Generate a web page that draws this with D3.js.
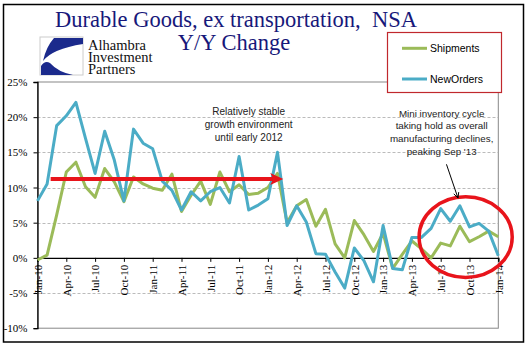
<!DOCTYPE html>
<html>
<head>
<meta charset="utf-8">
<script src="https://cdn.jsdelivr.net/npm/d3@7"></script>
<style>
  body { margin: 0; background: #fff; }
  svg { display: block; }
</style>
</head>
<body>
<svg id="chart" width="532" height="358"></svg>
<script>
// months shown on the chart (Excel category axis)
var months = ["Jan-10","Feb-10","Mar-10","Apr-10","May-10","Jun-10","Jul-10","Aug-10","Sep-10","Oct-10","Nov-10","Dec-10",
  "Jan-11","Feb-11","Mar-11","Apr-11","May-11","Jun-11","Jul-11","Aug-11","Sep-11","Oct-11","Nov-11","Dec-11",
  "Jan-12","Feb-12","Mar-12","Apr-12","May-12","Jun-12","Jul-12","Aug-12","Sep-12","Oct-12","Nov-12","Dec-12",
  "Jan-13","Feb-13","Mar-13","Apr-13","May-13","Jun-13","Jul-13","Aug-13","Sep-13","Oct-13","Nov-13","Dec-13",
  "Jan-14"];
var tickLabels = ["Jan-10","Apr-10","Jul-10","Oct-10","Jan-11","Apr-11","Jul-11","Oct-11","Jan-12","Apr-12","Jul-12","Oct-12","Jan-13","Apr-13","Jul-13","Oct-13","Jan-14"];
var yTicks = [-10, -5, 0, 5, 10, 15, 20, 25];

// Y/Y % change
var shipments = [-0.3, 0.4, 6.1, 12.2, 13.6, 10.1, 8.6, 12.7, 10.8, 8.0, 11.5, 10.5,
  9.9, 9.6, 11.9, 6.6, 8.9, 10.9, 7.6, 12.2, 9.4, 10.4, 9.0, 9.2,
  10.0, 12.0, 5.0, 7.4, 8.3, 4.5, 6.9, 2.0, 0.0, 5.3, 3.3, 0.9,
  3.5, -1.5, 0.5, 2.4, 1.3, 0.0, 2.1, 1.7, 4.5, 2.3, 3.0, 3.8,
  3.0];
var newOrders = [8.1, 10.5, 18.8, 20.2, 22.1, 17.0, 12.0, 18.0, 13.9, 8.1, 18.3, 16.3,
  15.5, 10.9, 9.6, 6.8, 9.4, 8.1, 9.4, 10.0, 7.8, 14.4, 6.8, 7.5,
  8.4, 15.0, 4.6, 7.4, 5.1, 0.6, 0.5, -2.0, -4.3, 1.4, -0.4, -3.4,
  4.6, -1.5, -1.7, 2.9, 2.9, 4.2, 7.0, 5.2, 7.4, 4.4, 4.9, 3.8,
  0.3];

var seriesNames = ["Shipments", "NewOrders"];
var colors = ["#9bbb59", "#4bacc6"];

var svg = d3.select("#chart");

var x = d3.scaleLinear().domain([0, months.length - 1]).range([37.5, 498.3]);
var y = d3.scaleLinear().domain([-10, 25]).range([328.2, 82]);

// outer frame
svg.append("rect")
  .attr("x", 3.5).attr("y", 4.5).attr("width", 520).attr("height", 337.5)
  .attr("fill", "#fff").attr("stroke", "#000").attr("stroke-width", 1.5);

// title
svg.append("text")
  .attr("x", 236).attr("y", 27)
  .attr("text-anchor", "middle")
  .attr("font-family", "Liberation Serif, serif")
  .attr("font-size", 22.5)
  .attr("fill", "#17187a")
  .attr("xml:space", "preserve")
  .text("Durable Goods, ex transportation,  NSA");
svg.append("text")
  .attr("x", 234).attr("y", 50)
  .attr("text-anchor", "middle")
  .attr("font-family", "Liberation Serif, serif")
  .attr("font-size", 22.5)
  .attr("fill", "#17187a")
  .text("Y/Y Change");

// logo
var logo = svg.append("g");
logo.append("rect").attr("x", 40).attr("y", 37).attr("width", 43).attr("height", 38)
  .attr("fill", "#fff").attr("stroke", "#ccc");
logo.append("path").attr("d", "M83,38 L54,38 Q46,47 43,61 Q52,49 83,44 Z").attr("fill", "#1b2a8c");
logo.append("path").attr("d", "M41,75 L41,66 Q45,60 50,63 Q58,72 73,75 Z").attr("fill", "#1b2a8c");
var logoText = ["Alhambra", "Investment", "Partners"];
logo.selectAll("text.logo")
  .data(logoText)
  .enter().append("text")
  .attr("class", "logo")
  .attr("x", 88)
  .attr("y", function(d, i) { return 49.5 + i * 12; })
  .attr("font-family", "Liberation Serif, serif")
  .attr("font-size", 14.5)
  .attr("fill", "#111")
  .text(function(d) { return d; });

// plot area border
svg.append("rect")
  .attr("x", x(0)).attr("y", y(25))
  .attr("width", x(months.length - 1) - x(0)).attr("height", y(-10) - y(25))
  .attr("fill", "none").attr("stroke", "#888").attr("stroke-width", 1);

// gridlines
svg.append("g")
  .selectAll("line")
  .data(yTicks.filter(function(d) { return d != 0 && d != 25 && d != -10; }))
  .enter().append("line")
  .attr("x1", x(0)).attr("x2", x(months.length - 1))
  .attr("y1", function(d) { return Math.round(y(d)) + 0.5; })
  .attr("y2", function(d) { return Math.round(y(d)) + 0.5; })
  .attr("stroke", "#aaa").attr("stroke-width", 0.8)
  .attr("stroke-dasharray", "3,2");

// y axis
var yAxis = svg.append("g")
  .attr("transform", "translate(" + x(0) + ",0)")
  .call(d3.axisLeft(y).tickValues(yTicks).tickSize(4).tickPadding(6)
    .tickFormat(function(d) { return d + "%"; }));
yAxis.select(".domain").attr("stroke", "#000").attr("stroke-width", 1.3);
yAxis.selectAll("text")
  .attr("font-family", "Liberation Serif, serif")
  .attr("font-size", 11)
  .attr("fill", "#000");

// x axis at 0%
var xAxis = svg.append("g")
  .attr("transform", "translate(0," + y(0) + ")")
  .call(d3.axisBottom(x)
    .tickValues(tickLabels.map(function(l) { return months.indexOf(l); }))
    .tickSize(4)
    .tickFormat(function(i) { return months[i]; }));
xAxis.select(".domain").attr("stroke", "#000").attr("stroke-width", 1.3);
xAxis.selectAll("text")
  .attr("font-family", "Liberation Serif, serif")
  .attr("font-size", 11)
  .attr("fill", "#000")
  .attr("text-anchor", "end")
  .attr("transform", "translate(0,7) rotate(-90)")
  .attr("x", 0).attr("y", 0)
  .attr("dy", "0.35em");

// lines
var line = d3.line()
  .x(function(d, i) { return x(i); })
  .y(function(d) { return y(d); });

svg.append("g")
  .selectAll("path")
  .data([shipments, newOrders])
  .enter().append("path")
  .attr("d", line)
  .attr("fill", "none")
  .attr("stroke", function(d, i) { return colors[i]; })
  .attr("stroke-width", 3)
  .attr("stroke-linejoin", "round");

// red arrow: stable growth until early 2012
var arrowY = y(11.2);
var ax0 = x(1.37), ax1 = x(25.6);
svg.append("line")
  .attr("x1", ax0).attr("x2", ax1 - 10)
  .attr("y1", arrowY).attr("y2", arrowY)
  .attr("stroke", "#e8141b").attr("stroke-width", 4);
svg.append("path")
  .attr("d", "M" + ax1 + "," + arrowY + " L" + (ax1 - 13) + "," + (arrowY - 6) +
    " L" + (ax1 - 10) + "," + arrowY + " L" + (ax1 - 13) + "," + (arrowY + 6) + " Z")
  .attr("fill", "#e8141b");

// red ellipse around the late-2013 cycle
svg.append("ellipse")
  .attr("cx", x(44.6)).attr("cy", y(2.95))
  .attr("rx", x(4.85) - x(0)).attr("ry", y(0) - y(5.73))
  .attr("fill", "none").attr("stroke", "#e8141b").attr("stroke-width", 3.5);

// annotation texts
var note1 = ["Relatively stable", "growth environment", "until early 2012"];
svg.append("g").selectAll("text")
  .data(note1)
  .enter().append("text")
  .attr("x", x(22.0))
  .attr("y", function(d, i) { return 115 + i * 13; })
  .attr("text-anchor", "middle")
  .attr("font-family", "Liberation Sans, Arial, sans-serif")
  .attr("font-size", 10)
  .attr("fill", "#222")
  .text(function(d) { return d; });

var note2 = ["Mini inventory cycle", "taking hold as overall", "manufacturing declines,", "peaking Sep '13"];
svg.append("g").selectAll("text")
  .data(note2)
  .enter().append("text")
  .attr("x", x(42.1))
  .attr("y", function(d, i) { return 116.5 + i * 12.8; })
  .attr("text-anchor", "middle")
  .attr("font-family", "Liberation Sans, Arial, sans-serif")
  .attr("font-size", 9.8)
  .attr("fill", "#222")
  .text(function(d) { return d; });

// small black pointer
var px0 = x(42.6), py0 = y(13.3), px1 = x(43.8), py1 = y(8.5);
svg.append("line")
  .attr("x1", px0).attr("y1", py0).attr("x2", px1).attr("y2", py1)
  .attr("stroke", "#000").attr("stroke-width", 1);
var ang = Math.atan2(py1 - py0, px1 - px0);
var hl = 6;
svg.append("path")
  .attr("d", "M" + (px1 - hl * Math.cos(ang - 0.45)) + "," + (py1 - hl * Math.sin(ang - 0.45)) +
    " L" + px1 + "," + py1 +
    " L" + (px1 - hl * Math.cos(ang + 0.45)) + "," + (py1 - hl * Math.sin(ang + 0.45)))
  .attr("fill", "none").attr("stroke", "#000").attr("stroke-width", 1);

// legend
var legend = svg.append("g");
legend.append("rect")
  .attr("x", 387.5).attr("y", 32.5).attr("width", 114).attr("height", 60)
  .attr("fill", "#fff").attr("stroke", "#c0282d").attr("stroke-width", 1.2);
var items = legend.selectAll("g.item")
  .data(seriesNames)
  .enter().append("g")
  .attr("class", "item")
  .attr("transform", function(d, i) { return "translate(0," + (48.3 + i * 30.7) + ")"; });
items.append("line")
  .attr("x1", 402).attr("x2", 427)
  .attr("stroke", function(d, i) { return colors[i]; })
  .attr("stroke-width", 3);
items.append("text")
  .attr("x", 430).attr("y", 3.6)
  .attr("font-family", "Liberation Sans, Arial, sans-serif")
  .attr("font-size", 10.5)
  .attr("fill", "#000")
  .text(function(d) { return d; });
</script>
</body>
</html>
